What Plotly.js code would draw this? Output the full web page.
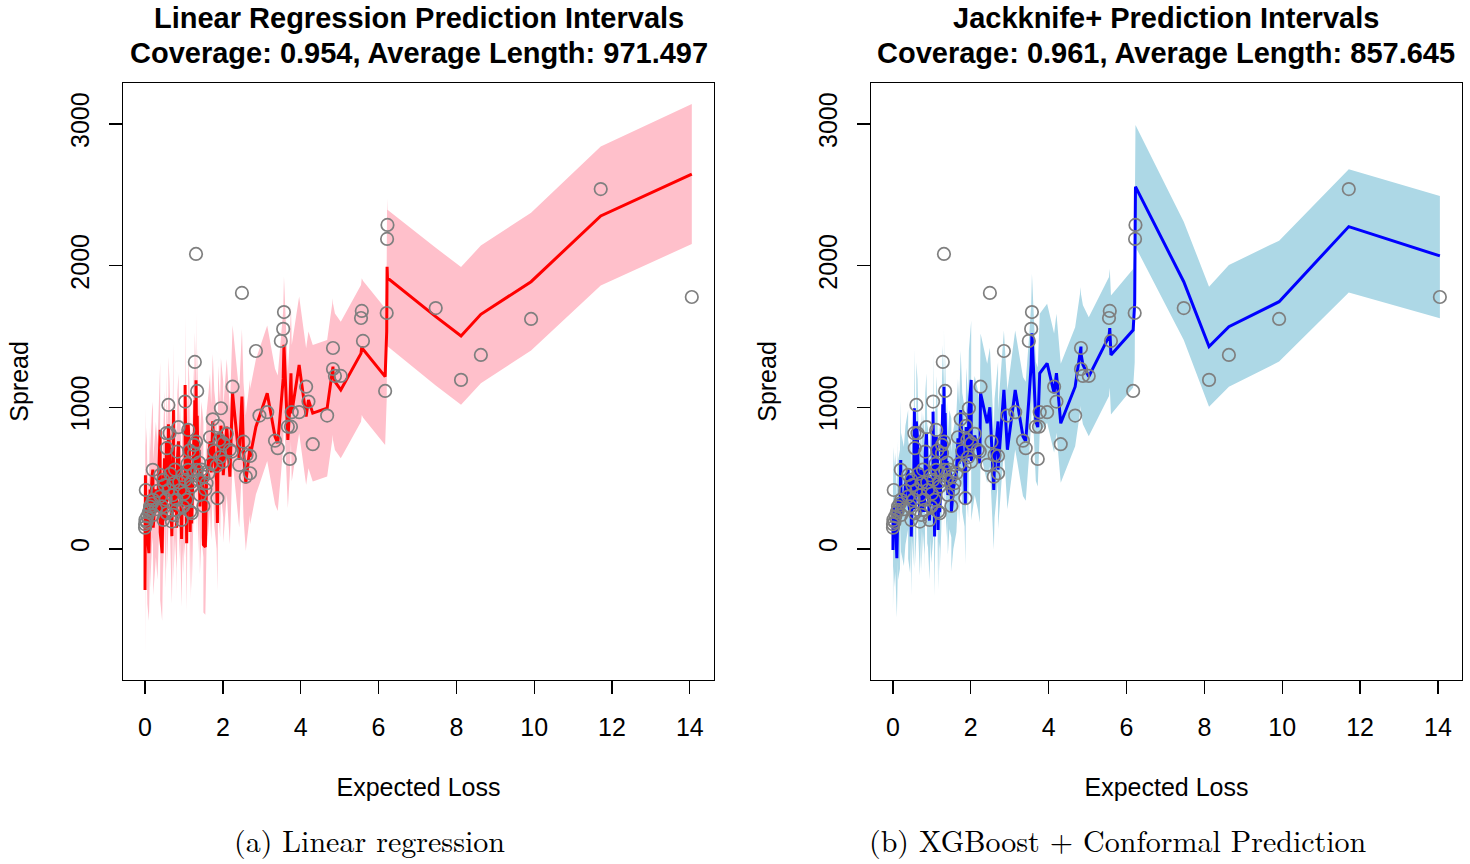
<!DOCTYPE html>
<html>
<head>
<meta charset="utf-8">
<script src="https://cdn.plot.ly/plotly-3.0.1.min.js"></script>
<style>html,body{margin:0;padding:0;background:#fff;}#chart{width:1470px;height:864px;}</style>
</head>
<body>
<div id="chart"></div>
<script>
// Test points (sorted by Expected Loss)
const lossX = [0.00,0.00,0.01,0.02,0.04,0.06,0.10,0.13,0.13,0.18,
  0.20,0.21,0.21,0.28,0.32,0.39,0.39,0.44,0.47,0.47,
  0.50,0.53,0.55,0.56,0.56,0.60,0.60,0.63,0.65,0.69,
  0.71,0.73,0.73,0.77,0.81,0.81,0.83,0.86,0.88,0.90,
  0.94,0.96,0.98,1.00,1.03,1.03,1.07,1.09,1.11,1.11,
  1.14,1.16,1.18,1.20,1.20,1.24,1.26,1.26,1.28,1.31,
  1.31,1.33,1.34,1.37,1.39,1.41,1.45,1.50,1.50,1.55,
  1.58,1.63,1.67,1.70,1.74,1.78,1.84,1.86,1.88,1.91,
  1.93,1.95,2.01,2.01,2.10,2.18,2.23,2.25,2.42,2.49,
  2.53,2.59,2.61,2.70,2.70,2.85,2.94,3.14,3.34,3.41,
  3.49,3.55,3.57,3.67,3.72,3.75,3.77,3.96,4.14,4.20,
  4.31,4.68,4.83,4.83,4.88,5.03,5.55,5.57,5.60,6.17,
  6.21,6.22,6.23,7.47,8.12,8.63,9.92,11.71,14.05];
const spread = [150,175,205,416,190,230,260,299,275,320,
  558,240,346,280,410,522,369,300,487,205,
  450,350,817,711,252,416,1016,817,530,193,
  380,464,240,560,346,275,687,859,470,416,
  205,520,299,390,487,1040,346,600,558,840,
  694,264,470,440,252,530,734,675,1320,757,
  2082,558,1115,487,610,381,560,510,303,420,
  464,534,788,600,915,690,586,358,868,769,
  647,993,746,616,812,700,687,1145,593,1807,
  757,510,663,656,534,1397,941,965,764,711,
  1468,1553,1672,863,635,863,965,965,1145,1040,
  739,941,1418,1270,1221,1221,1630,1680,1468,1115,
  1665,2188,2287,1700,1193,1369,1623,2540,1778];

// Linear regression: prediction and interval
const lrFit = [300,-290,520,250,380,90,-30,420,200,510,
  560,330,150,420,260,840,120,-30,520,300,
  640,200,760,540,330,620,880,700,420,90,
  480,980,260,560,340,150,620,760,400,560,
  70,470,300,520,420,1157,40,640,500,880,
  700,120,540,350,180,660,820,600,1050,760,
  1190,560,940,450,700,300,560,420,30,14,
  480,620,760,540,900,640,480,183,817,640,
  560,870,700,520,863,510,958,1100,628,1075,
  700,463,520,722,650,863,934,1099,793,746,
  1000,1200,1440,769,1000,1240,958,1299,934,1052,
  958,993,1287,1250,1180,1122,1380,1428,1410,1216,
  1533,1992,1912,1640,1503,1656,1886,2350,2646];
const lrLo = [-178,-768,42,-228,-98,-388,-508,-58,-278,32,
  82,-148,-328,-58,-218,362,-358,-508,42,-178,
  162,-278,282,62,-148,142,402,222,-58,-388,
  2,502,-218,82,-138,-328,142,282,-78,82,
  -408,-8,-178,42,-58,679,-438,162,22,402,
  222,-358,62,-128,-298,182,342,122,572,282,
  712,82,462,-28,222,-178,82,-58,-448,-464,
  2,142,282,62,422,162,2,-295,339,162,
  82,392,222,42,385,32,480,622,150,597,
  222,-15,42,244,172,385,456,621,315,268,
  518,718,958,287,518,758,476,817,452,570,
  476,511,805,768,698,640,898,946,928,734,
  1051,1510,1430,1154,1017,1170,1400,1860,2152];
const lrHi = [778,188,998,728,858,568,448,898,678,988,
  1038,808,628,898,738,1318,598,448,998,778,
  1118,678,1238,1018,808,1098,1358,1178,898,568,
  958,1458,738,1038,818,628,1098,1238,878,1038,
  548,948,778,998,898,1635,518,1118,978,1358,
  1178,598,1018,828,658,1138,1298,1078,1528,1238,
  1668,1038,1418,928,1178,778,1038,898,508,492,
  958,1098,1238,1018,1378,1118,958,661,1295,1118,
  1038,1348,1178,998,1341,988,1436,1578,1106,1553,
  1178,941,998,1200,1128,1341,1412,1577,1271,1224,
  1482,1682,1922,1251,1482,1722,1440,1781,1416,1534,
  1440,1475,1769,1732,1662,1604,1862,1910,1892,1698,
  2015,2474,2394,2126,1989,2142,2372,2840,3140];

// XGBoost + Jackknife+: prediction and interval
const jkFit = [230,-7,180,300,150,260,-66,350,200,280,
  628,240,400,300,450,560,350,250,520,87,
  480,300,993,700,280,500,900,780,520,230,
  420,560,260,540,380,260,680,820,460,430,
  200,500,320,420,480,969,87,600,560,800,
  680,134,470,420,260,540,740,660,1020,740,
  1145,560,960,500,620,380,560,500,260,420,
  470,540,780,600,981,680,580,310,860,760,
  640,980,1193,620,800,700,605,1100,887,1000,
  760,416,640,900,560,1122,700,1122,793,760,
  1050,1300,1522,900,860,1180,1240,1310,1100,1240,
  887,1145,1428,1380,1300,1216,1500,1558,1369,1545,
  1734,2200,2557,1886,1428,1569,1745,2275,2068];
const jkLo = [-190,-427,-240,-120,-270,-160,-486,-70,-220,-140,
  208,-180,-20,-120,30,140,-70,-170,100,-333,
  60,-120,573,280,-140,80,480,360,100,-190,
  0,140,-160,120,-40,-160,260,400,40,10,
  -220,80,-100,0,60,549,-333,180,140,380,
  260,-286,50,0,-160,120,320,240,600,320,
  725,140,540,80,200,-40,140,80,-160,0,
  50,120,360,180,561,260,160,-110,440,340,
  220,560,773,200,380,280,185,680,467,580,
  340,-4,220,480,140,702,280,702,373,340,
  630,880,1102,480,440,760,820,890,680,820,
  467,725,1008,960,880,796,1080,1138,949,1140,
  1314,1775,2133,1475,1004,1145,1322,1809,1628];
const jkHi = [650,413,600,720,570,680,354,770,620,700,
  1048,660,820,720,870,980,770,670,940,507,
  900,720,1413,1120,700,920,1320,1200,940,650,
  840,980,680,960,800,680,1100,1240,880,850,
  620,920,740,840,900,1389,507,1020,980,1220,
  1100,554,890,840,680,960,1160,1080,1440,1160,
  1565,980,1380,920,1040,800,980,920,680,840,
  890,960,1200,1020,1401,1100,1000,730,1280,1180,
  1060,1400,1613,1040,1220,1120,1025,1520,1307,1420,
  1180,836,1060,1320,980,1542,1120,1542,1213,1180,
  1470,1720,1942,1320,1280,1600,1660,1730,1520,1660,
  1307,1565,1848,1800,1720,1636,1920,1978,1789,1975,
  2154,2625,2992,2310,1851,2004,2176,2679,2491];

const xTicks = [0,2,4,6,8,10,12,14];
const yTicks = [0,1000,2000,3000];

const FONT = 'Liberation Sans, Arial, sans-serif';

function panel(xa, ya, fit, lo, hi, bandColor, lineColor) {
  return [
    {x: lossX, y: lo, xaxis: xa, yaxis: ya, type: 'scatter', mode: 'lines',
     line: {width: 0, color: bandColor}, hoverinfo: 'skip', showlegend: false},
    {x: lossX, y: hi, xaxis: xa, yaxis: ya, type: 'scatter', mode: 'lines',
     line: {width: 0, color: bandColor}, fill: 'tonexty', fillcolor: bandColor,
     hoverinfo: 'skip', showlegend: false},
    {x: lossX, y: fit, xaxis: xa, yaxis: ya, type: 'scatter', mode: 'lines',
     line: {width: 3, color: lineColor}, showlegend: false},
    {x: lossX, y: spread, xaxis: xa, yaxis: ya, type: 'scatter', mode: 'markers',
     marker: {symbol: 'circle-open', size: 12.5, color: '#7f7f7f', line: {width: 1.7, color: '#7f7f7f'}},
     showlegend: false}
  ];
}

const data = [].concat(
  panel('x', 'y', lrFit, lrLo, lrHi, '#FFC0CB', '#FF0000'),
  panel('x2', 'y2', jkFit, jkLo, jkHi, '#ADD8E6', '#0000FF')
);

function xAxis(domain, anchor) {
  return {domain: domain, anchor: anchor, range: [-0.565, 14.62], tickvals: xTicks,
    ticks: 'outside', ticklen: 13, tickwidth: 1.3, tickcolor: '#000', ticklabelstandoff: 12,
    showline: true, mirror: true, linecolor: '#000', linewidth: 1.3,
    showgrid: false, zeroline: false,
    tickfont: {family: FONT, size: 25, color: '#000'},
    title: {text: 'Expected Loss', font: {family: FONT, size: 25, color: '#000'}, standoff: 38}};
}
function yAxis(domain, anchor) {
  return {domain: domain, anchor: anchor, range: [-925, 3289], tickvals: yTicks,
    ticks: 'outside', ticklen: 13, tickwidth: 1.3, tickcolor: '#000', tickangle: -90, ticklabelstandoff: 10,
    showline: true, mirror: true, linecolor: '#000', linewidth: 1.3,
    showgrid: false, zeroline: false,
    tickfont: {family: FONT, size: 25, color: '#000'},
    title: {text: 'Spread', font: {family: FONT, size: 25, color: '#000'}, standoff: 30}};
}

const titleFont = {family: FONT, size: 29, color: '#000'};
const capFont = {family: 'Latin Modern Roman, CMU Serif, DejaVu Serif, Liberation Serif, serif', size: 30, color: '#000'};

const layout = {
  width: 1470, height: 864,
  margin: {l: 0, r: 0, t: 0, b: 0},
  paper_bgcolor: '#fff', plot_bgcolor: '#fff',
  showlegend: false,
  xaxis: xAxis([0.0837, 0.4857], 'y'),
  yaxis: yAxis([0.213, 0.904], 'x'),
  xaxis2: xAxis([0.5925, 0.9946], 'y2'),
  yaxis2: yAxis([0.213, 0.904], 'x2'),
  annotations: [
    {text: '<b>Linear Regression Prediction Intervals</b>', x: 0.2847, y: 0.979, xref: 'paper', yref: 'paper', showarrow: false, font: titleFont, xanchor: 'center', yanchor: 'middle'},
    {text: '<b>Coverage: 0.954, Average Length: 971.497</b>', x: 0.2847, y: 0.939, xref: 'paper', yref: 'paper', showarrow: false, font: titleFont, xanchor: 'center', yanchor: 'middle'},
    {text: '<b>Jackknife+ Prediction Intervals</b>', x: 0.7935, y: 0.979, xref: 'paper', yref: 'paper', showarrow: false, font: titleFont, xanchor: 'center', yanchor: 'middle'},
    {text: '<b>Coverage: 0.961, Average Length: 857.645</b>', x: 0.7935, y: 0.939, xref: 'paper', yref: 'paper', showarrow: false, font: titleFont, xanchor: 'center', yanchor: 'middle'},
    {text: '(a) Linear regression', x: 0.2517, y: 0.028, xref: 'paper', yref: 'paper', showarrow: false, font: capFont, xanchor: 'center', yanchor: 'middle'},
    {text: '(b) XGBoost + Conformal Prediction', x: 0.7605, y: 0.028, xref: 'paper', yref: 'paper', showarrow: false, font: capFont, xanchor: 'center', yanchor: 'middle'}
  ]
};

Plotly.newPlot('chart', data, layout, {staticPlot: true, displayModeBar: false});
</script>
</body>
</html>
